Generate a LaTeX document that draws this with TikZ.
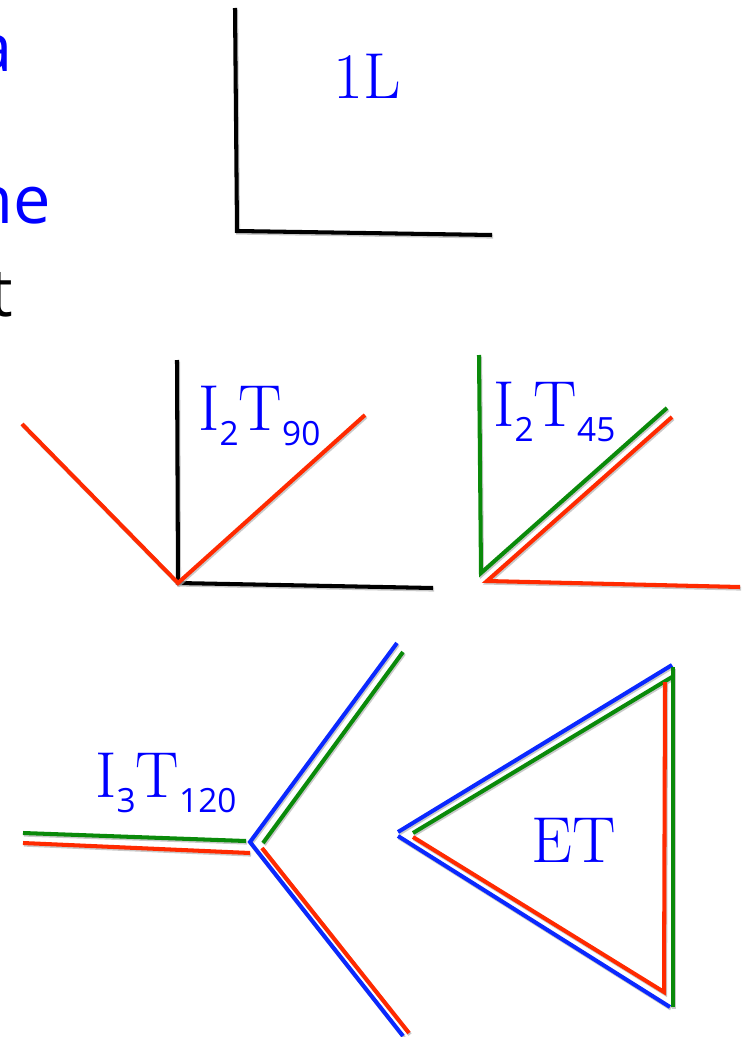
\documentclass[tikz,border=0pt]{standalone}
\usepackage{fontspec}
\usepackage{xcolor}
\usepackage{tikz}
\usetikzlibrary{positioning}
\newfontfamily\cutfont{Open Sans}
\definecolor{lBlue}{HTML}{0A28FF}
\definecolor{lRed}{HTML}{FF2A00}
\definecolor{lGreen}{HTML}{0A8A0A}
\definecolor{tBlue}{HTML}{0000FF}
\newcommand{\sbs}[1]{\raisebox{-8.6pt}{\cutfont\fontsize{19}{19}\selectfont #1}}
\tikzset{
  stick/.style={line width=2.3pt, line cap=butt,
    preaction={draw=black!30, line width=2.3pt, opacity=0.7,
      transform canvas={shift={(0.6pt,-0.9pt)}}}},
  tag/.style={anchor=base west, inner sep=0pt, text=tBlue,
    font=\fontsize{37}{40}\selectfont},
  cut/.style={anchor=base east, inner sep=0pt, font=\cutfont\fontsize{38}{44}\selectfont}
}
\begin{document}
\begin{tikzpicture}[x=0.02cm, y=-0.02cm]
  \useasboundingbox (0,0) rectangle (742,1037);
  \clip (0,0) rectangle (742,1037);
  % text cut off at the left edge
  \node[cut, text=tBlue] (cuta) at (13,72) {a};
  \node[cut, text=tBlue] (cutne) at (51,223) {ne};
  \node[cut, text=black] (cutt) at (13,316) {t};

  % 1L
  \draw[stick, black] (235,8) -- (237,231) -- (492,235);
  \node[tag] (oneL) at (333,99) {1L};

  % I2T90
  \coordinate (c90) at (178,583);
  \draw[stick, black] (177,360) -- (c90) -- (433,588);
  \draw[stick, lRed] (22,424) -- (c90) -- (365,415);
  \node[tag] (t90) at (198,430) {I\sbs{2}T\sbs{90}};

  % I2T45
  \draw[stick, lGreen] (479,355) -- (481,573) -- (667,408);
  \draw[stick, lRed] (672,417) -- (487,581) -- (740,587);
  \node[tag] (t45) at (493,426) {I\sbs{2}T\sbs{45}};

  % I3T120
  \draw[stick, lBlue] (397,643) -- (250,842) -- (403,1036);
  \draw[stick, lGreen] (403,652) -- (263,843);
  \draw[stick, lGreen] (23,833) -- (246,841);
  \draw[stick, lRed] (23,843) -- (250,853);
  \draw[stick, lRed] (262,848) -- (409,1033);
  \node[tag] (t120) at (95,797) {I\sbs{3}T\sbs{120}};

  % ET
  \draw[stick, lBlue] (672,665) -- (398,832);
  \draw[stick, lBlue] (398,836) -- (670,1007);
  \draw[stick, lGreen] (413,833) -- (672,677);
  \draw[stick, lGreen] (673,667) -- (673,1007);
  \draw[stick, lRed] (665,682) -- (664,992) -- (413,837);
  \node[tag] (et) at (531,862) {ET};
\end{tikzpicture}
\end{document}
